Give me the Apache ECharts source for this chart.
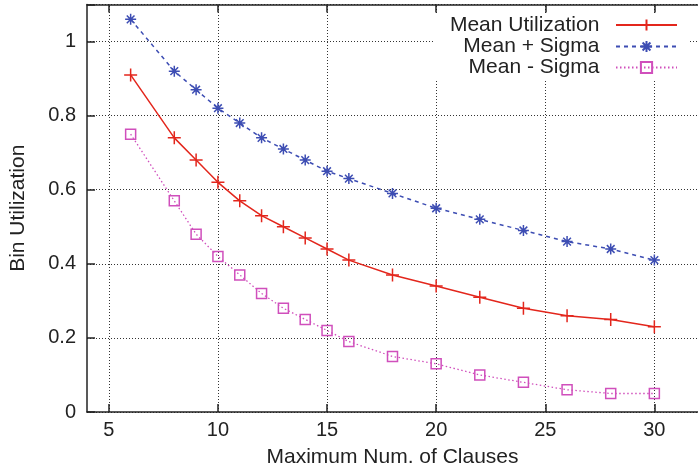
<!DOCTYPE html>
<html>
<head>
<meta charset="utf-8">
<script src="https://cdn.jsdelivr.net/npm/echarts@6/dist/echarts.min.js"></script>
<style>html,body{margin:0;padding:0;background:#fff}#c{width:698px;height:473px}</style>
</head>
<body>
<div id="c"></div>
<script>
var clauses = [6, 8, 9, 10, 11, 12, 13, 14, 15, 16, 18, 20, 22, 24, 26, 28, 30];
var meanUtil = [0.91, 0.74, 0.68, 0.62, 0.57, 0.53, 0.50, 0.47, 0.44, 0.41, 0.37, 0.34, 0.31, 0.28, 0.26, 0.25, 0.23];
var meanPlus = [1.06, 0.92, 0.87, 0.82, 0.78, 0.74, 0.71, 0.68, 0.65, 0.63, 0.59, 0.55, 0.52, 0.49, 0.46, 0.44, 0.41];
var meanMinus = [0.75, 0.57, 0.48, 0.42, 0.37, 0.32, 0.28, 0.25, 0.22, 0.19, 0.15, 0.13, 0.10, 0.08, 0.06, 0.05, 0.05];
var xTicks = [5, 10, 15, 20, 25, 30];
var seriesNames = ['Mean Utilization', 'Mean + Sigma', 'Mean - Sigma'];

function pairs(ys) { return clauses.map(function (x, i) { return [x, ys[i]]; }); }

var FONT = 'Liberation Sans, Arial, Helvetica, sans-serif';
var gridLine = { color: '#333', width: 1, type: [1, 2] };

var legendTops = [14.5, 36, 57];
var legendLeftPad = [16, 30, 33];
var legends = seriesNames.map(function (n, i) {
  return {
    orient: 'horizontal',
    right: 8,
    top: legendTops[i],
    align: 'right',
    itemWidth: 61,
    itemHeight: 14,
    selectedMode: false,
    backgroundColor: '#fff',
    padding: [0, 12, 1, legendLeftPad[i]],
    formatter: function (name) { return name + '  '; },
    textStyle: { fontSize: 21, color: '#222', fontFamily: FONT },
    data: [n]
  };
});

var chart = echarts.init(document.getElementById('c'), null, { renderer: 'canvas' });
chart.setOption({
  animation: false,
  backgroundColor: '#fff',
  textStyle: { fontFamily: FONT },
  grid: { left: 80.5, right: -5, top: 4.5, bottom: 59.5, containLabel: false },
  legend: legends,
  xAxis: [{
    type: 'value', min: 4, max: 32, position: 'bottom',
    axisLine: { show: true, onZero: false, lineStyle: { color: '#222', width: 1.5 } },
    axisTick: { show: true, inside: true, length: 8, customValues: xTicks, lineStyle: { color: '#222', width: 1.5 } },
    axisLabel: { show: true, customValues: xTicks, fontSize: 20, color: '#222', margin: 8, fontFamily: FONT },
    splitLine: { show: false },
    name: 'Maximum Num. of Clauses', nameLocation: 'middle', nameGap: 35,
    nameTextStyle: { fontSize: 21, color: '#222', fontFamily: FONT }
  }, {
    type: 'value', min: 4, max: 32, position: 'top',
    axisLine: { show: true, onZero: false, lineStyle: { color: '#222', width: 1.5 } },
    axisTick: { show: true, inside: true, length: 8, customValues: xTicks, lineStyle: { color: '#222', width: 1.5 } },
    axisLabel: { show: false },
    splitLine: { show: false }
  }],
  yAxis: {
    type: 'value', min: 0, max: 1.1, interval: 0.2,
    axisLine: { show: true, lineStyle: { color: '#222', width: 1.5 } },
    axisTick: { show: true, inside: true, length: 8, lineStyle: { color: '#222', width: 1.5 } },
    axisLabel: {
      fontSize: 20, color: '#222', margin: 11, fontFamily: FONT,
      formatter: function (v) { return v > 1.05 ? '' : String(Math.round(v * 10) / 10); }
    },
    splitLine: { show: true, lineStyle: gridLine },
    name: 'Bin Utilization', nameLocation: 'middle', nameGap: 58,
    nameTextStyle: { fontSize: 21, color: '#222', fontFamily: FONT }
  },
  series: [{
    type: 'line', name: '_grid', data: [], silent: true, z: 0,
    markLine: {
      silent: true, symbol: 'none', label: { show: false }, z: 0,
      lineStyle: gridLine,
      data: xTicks.map(function (v) { return { xAxis: v }; })
    }
  }, {
    type: 'line', name: seriesNames[0], data: pairs(meanUtil),
    symbol: 'path://M0,5L10,5M5,0L5,10', symbolSize: 13,
    lineStyle: { color: '#e3261c', width: 1.5, type: 'solid' },
    itemStyle: { color: 'transparent', borderColor: '#e3261c', borderWidth: 1.5 }
  }, {
    type: 'line', name: seriesNames[1], data: pairs(meanPlus),
    symbol: 'path://M5,0L5,10M0,5L10,5M1.5,1.5L8.5,8.5M8.5,1.5L1.5,8.5', symbolSize: 11,
    lineStyle: { color: '#3d4db3', width: 1.5, type: [4, 4] },
    itemStyle: { color: 'transparent', borderColor: '#3d4db3', borderWidth: 1.5 }
  }, {
    type: 'line', name: seriesNames[2], data: pairs(meanMinus),
    symbol: 'rect', symbolSize: 10,
    lineStyle: { color: '#d04fbc', width: 1.3, type: [1.5, 2.5] },
    itemStyle: { color: 'transparent', borderColor: '#d04fbc', borderWidth: 1.5 }
  }]
});
</script>
</body>
</html>
